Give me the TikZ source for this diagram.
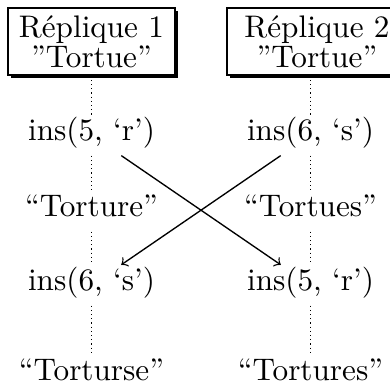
\documentclass[tikz,border=0pt]{standalone}
\usetikzlibrary{shadows}
\begin{document}
\begin{tikzpicture}[x=0.3333pt,y=-0.3333pt,
  every node/.style={font=\fontsize{10.4}{12}\selectfont},
  repbox/.style={draw, line width=0.45pt, fill=white, align=center,
    minimum width=55.7pt, minimum height=22.3pt, inner sep=0pt,
    drop shadow={shadow xshift=1pt, shadow yshift=-1pt, opacity=1, fill=black}},
  txt/.style={anchor=base, inner sep=0pt, text height=8.2pt, text depth=5pt},
  tl/.style={densely dotted, line width=0.4pt},
  msg/.style={->, line width=0.45pt}]
\useasboundingbox (0,0) rectangle (390,385);
\node[repbox] (B1) at (91.5,41.5) {Réplique 1\\[-2pt]”Tortue”};
\node[repbox, minimum width=60pt] (B2) at (317,41.5) {Réplique 2\\[-2pt]”Tortue”};
\node[txt] (L1) at (91.5,140) {ins(5, ‘r’)};
\node[txt] (L2) at (91.5,216) {“Torture”};
\node[txt] (L3) at (91.5,290) {ins(6, ‘s’)};
\node[txt] (L4) at (91.5,380) {“Torturse”};
\node[txt] (R1) at (310.5,140) {ins(6, ‘s’)};
\node[txt] (R2) at (310.5,216) {“Tortues”};
\node[txt] (R3) at (310.5,290) {ins(5, ‘r’)};
\node[txt] (R4) at (310.5,380) {“Tortures”};
\draw[tl] (B1.south) -- (L1.north);
\draw[tl] (L1.south) -- (L2.north);
\draw[tl] (L2.south) -- (L3.north);
\draw[tl] (L3.south) -- (L4.north);
\draw[tl] (B2.south-|R1.north) -- (R1.north);
\draw[tl] (R1.south) -- (R2.north);
\draw[tl] (R2.south) -- (R3.north);
\draw[tl] (R3.south) -- (R4.north);
\draw[msg] (L1) -- (R3);
\draw[msg] (R1) -- (L3);
\end{tikzpicture}
\end{document}
